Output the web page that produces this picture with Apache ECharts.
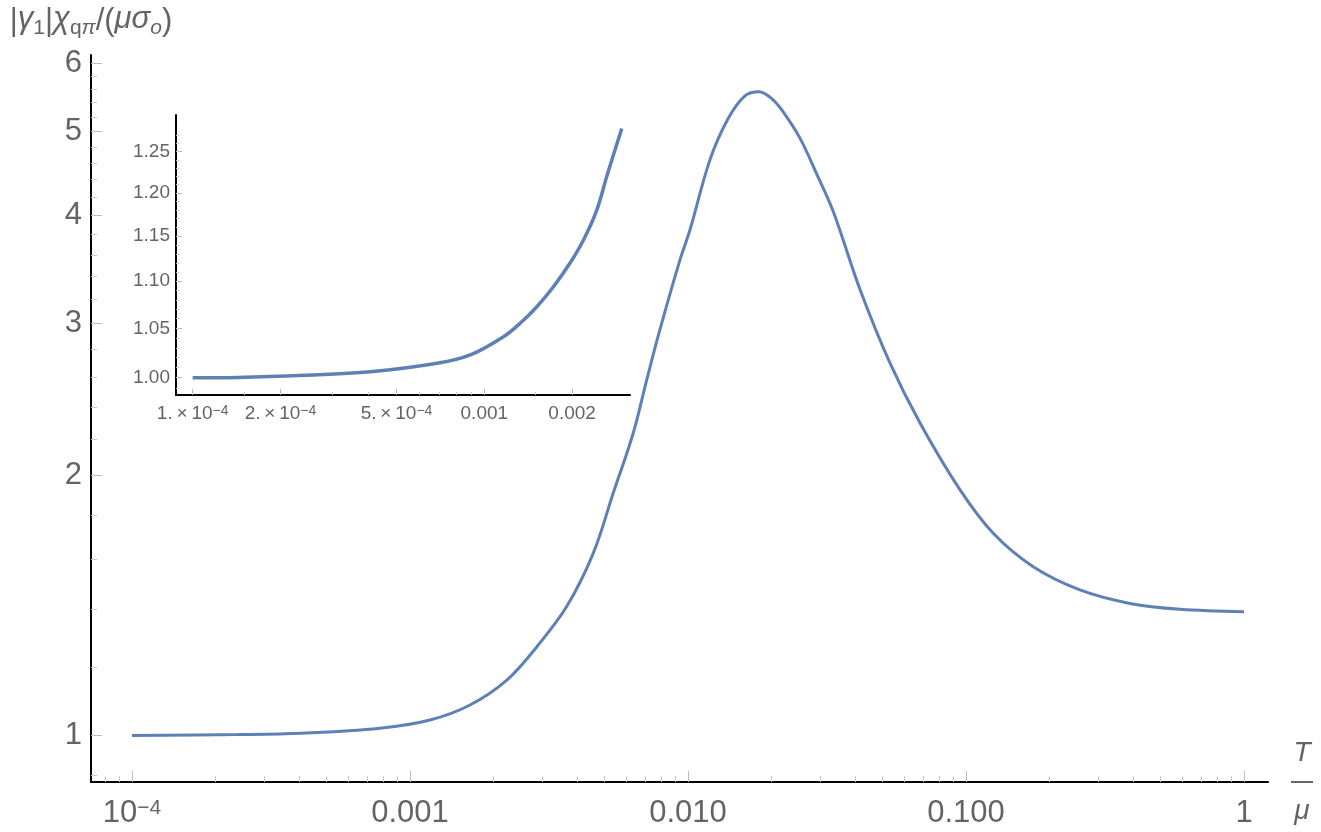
<!DOCTYPE html>
<html><head><meta charset="utf-8">
<script src="https://cdn.jsdelivr.net/npm/echarts@6/dist/echarts.min.js"></script>
<style>html,body{margin:0;padding:0;background:#fff}#c{width:1321px;height:832px}</style>
</head><body><div id="c"></div>
<script>
// ---- data ----
const mainT = [1e-4, 2.41e-4, 4.07e-4, 7.80e-4, 1.18e-3, 1.644e-3, 2.23e-3, 2.86e-3, 3.66e-3, 4.56e-3, 5.38e-3, 6.35e-3, 7.10e-3, 7.92e-3, 9.35e-3, 1.016e-2, 1.20e-2, 1.396e-2, 1.603e-2, 1.804e-2, 2.0e-2, 2.20e-2, 2.53e-2, 2.90e-2, 3.33e-2, 4.16e-2, 5.33e-2, 6.84e-2, 9.52e-2, 0.1253, 0.1745, 0.257, 0.389, 0.589, 1.0];
const mainV = [1.000, 1.0024, 1.0059, 1.0194, 1.042, 1.0846, 1.159, 1.267, 1.410, 1.625, 1.907, 2.238, 2.579, 2.947, 3.550, 3.846, 4.64, 5.18, 5.50, 5.56, 5.46, 5.27, 4.91, 4.47, 4.04, 3.28, 2.697, 2.298, 1.924, 1.714, 1.568, 1.474, 1.422, 1.400, 1.391];
const insetT = [1e-4, 1.426e-4, 2.41e-4, 4.07e-4, 6.89e-4, 8.95e-4, 1.164e-3, 1.327e-3, 1.514e-3, 1.726e-3, 1.965e-3, 2.19e-3, 2.43e-3, 2.63e-3, 2.96e-3];
const insetV = [1.0000, 1.0003, 1.0024, 1.0059, 1.0143, 1.0227, 1.0413, 1.0552, 1.0726, 1.094, 1.1196, 1.146, 1.180, 1.22, 1.279];

const mainXTicks = [1e-4, 1e-3, 1e-2, 1e-1, 1];
const mainXLabels = ['10{sup|−4}', '0.001', '0.010', '0.100', '1'];
const mainYTicks = [1, 2, 3, 4, 5, 6];
const mainYLabels = ['1', '2', '3', '4', '5', '6'];
const insetXTicks = [1e-4, 2e-4, 5e-4, 1e-3, 2e-3];
const insetXLabels = ['1.\u2009×\u200910{sup|−4}', '2.\u2009×\u200910{sup|−4}', '5.\u2009×\u200910{sup|−4}', '0.001', '0.002'];
const insetYTicks = [1.00, 1.05, 1.10, 1.15, 1.20, 1.25];
const insetYLabels = ['1.00', '1.05', '1.10', '1.15', '1.20', '1.25'];

// ---- helpers ----
const L = Math.log10;
const mainXMinor = [8e-5, 9e-5];
[1e-4, 1e-3, 1e-2, 1e-1].forEach(d => { for (let k = 2; k <= 9; k++) mainXMinor.push(k * d); });
const mainYMinor = [0.9];
for (let k = 1; k <= 5; k++) for (let j = 1; j <= 4; j++) mainYMinor.push(k + j * 0.2);
const insetXMinor = [1.5e-4, 3e-4, 4e-4, 6e-4, 7e-4, 8e-4, 9e-4, 1.5e-3];
const insetYMinor = [];
for (let k = 0; k <= 28; k++) insetYMinor.push(0.99 + k * 0.01);

const FONT = "'Liberation Sans', Arial, sans-serif";
const TXT = '#646464';
const BLUE = '#5E81B5';

function labelOf(ticks, labels) {
  return v => { const i = ticks.findIndex(t => Math.abs(L(t) - v) < 1e-6); return i >= 0 ? labels[i] : ''; };
}
function majorAxis(dim, grid, min, max, ticks, labels, opt) {
  const a = {
    gridIndex: grid, type: 'value', min: min, max: max,
    position: dim === 'x' ? 'bottom' : 'left',
    axisLine: { show: true, onZero: false, lineStyle: { color: '#000', width: 2 } },
    axisTick: { show: true, inside: true, length: opt.majorLen, customValues: ticks.map(L), lineStyle: { color: '#bdbdbd', width: 1 } },
    axisLabel: {
      show: true, customValues: ticks.map(L), margin: opt.margin,
      formatter: labelOf(ticks, labels), color: TXT, fontSize: opt.fs, fontFamily: FONT,
      rich: { sup: { fontSize: opt.sup, color: TXT, fontFamily: FONT, verticalAlign: 'top' } }
    },
    splitLine: { show: false }
  };
  return Object.assign(a, opt.extra || {});
}
function minorAxis(dim, grid, min, max, minors, len) {
  return {
    gridIndex: grid, type: 'value', min: min, max: max,
    position: dim === 'x' ? 'bottom' : 'left',
    axisLine: { show: false, onZero: false },
    axisTick: { show: true, inside: true, length: len, customValues: minors.map(L), lineStyle: { color: '#c8c8c8', width: 1 } },
    axisLabel: { show: false },
    splitLine: { show: false }
  };
}

const MX = [-4.1475, 0.0863], MY = [-0.0538, 0.7876];
const IX = [-4.0571, -2.5005], IY = [-0.00742, 0.11265];

const chart = echarts.init(document.getElementById('c'), null, { renderer: 'canvas' });
chart.setOption({
  animation: false,
  backgroundColor: '#fff',
  grid: [
    { left: 91, top: 55, right: 53, bottom: 50, containLabel: false, outerBoundsMode: 'none' },
    { left: 176, top: 115, right: 691, bottom: 437, containLabel: false, outerBoundsMode: 'none' }
  ],
  xAxis: [
    majorAxis('x', 0, MX[0], MX[1], mainXTicks, mainXLabels, {
      majorLen: 11, margin: 16, fs: 31, sup: 21,
      extra: {
        name: '{t|T}\n{bar|}\n{m|μ}', nameLocation: 'end', nameGap: 23,
        nameTextStyle: {
          align: 'left', verticalAlign: 'middle', color: TXT, fontFamily: FONT,
          rich: {
            t: { fontSize: 28, fontStyle: 'italic', color: TXT, fontFamily: FONT, align: 'center', lineHeight: 56 },
            bar: { width: 22, height: 2, lineHeight: 2, backgroundColor: '#666' },
            m: { fontSize: 28, fontStyle: 'italic', color: TXT, fontFamily: FONT, align: 'center', lineHeight: 56 }
          }
        }
      }
    }),
    minorAxis('x', 0, MX[0], MX[1], mainXMinor, 6),
    majorAxis('x', 1, IX[0], IX[1], insetXTicks, insetXLabels, { majorLen: 6, margin: 9, fs: 19, sup: 14 }),
    minorAxis('x', 1, IX[0], IX[1], insetXMinor, 3)
  ],
  yAxis: [
    majorAxis('y', 0, MY[0], MY[1], mainYTicks, mainYLabels, {
      majorLen: 11, margin: 9, fs: 31, sup: 21,
      extra: {
        name: '|{g|γ}{s|1}|{g|χ}{s|q}{si|π}/({g|μσ}{si|o})', nameLocation: 'end', nameGap: 16,
        nameTextStyle: {
          align: 'center', verticalAlign: 'bottom', color: TXT, fontSize: 31, fontFamily: FONT,
          rich: {
            g: { fontSize: 31, fontStyle: 'italic', color: TXT, fontFamily: FONT, verticalAlign: 'top' },
            s: { fontSize: 21, color: TXT, fontFamily: FONT, verticalAlign: 'top', padding: [14, 0, 0, 0] },
            si: { fontSize: 21, fontStyle: 'italic', color: TXT, fontFamily: FONT, verticalAlign: 'top', padding: [14, 0, 0, 0] }
          }
        }
      }
    }),
    minorAxis('y', 0, MY[0], MY[1], mainYMinor, 6),
    majorAxis('y', 1, IY[0], IY[1], insetYTicks, insetYLabels, { majorLen: 6, margin: 6, fs: 19, sup: 14 }),
    minorAxis('y', 1, IY[0], IY[1], insetYMinor, 3)
  ],
  series: [
    {
      type: 'line', xAxisIndex: 0, yAxisIndex: 0, showSymbol: false, symbol: 'none',
      smooth: 0.35,
      lineStyle: { color: BLUE, width: 3 },
      data: mainT.map((t, i) => [L(t), L(mainV[i])])
    },
    {
      type: 'line', xAxisIndex: 2, yAxisIndex: 2, showSymbol: false, symbol: 'none',
      smooth: 0.35,
      lineStyle: { color: BLUE, width: 3.5 },
      data: insetT.map((t, i) => [L(t), L(insetV[i])])
    }
  ]
});
</script>
</body></html>
